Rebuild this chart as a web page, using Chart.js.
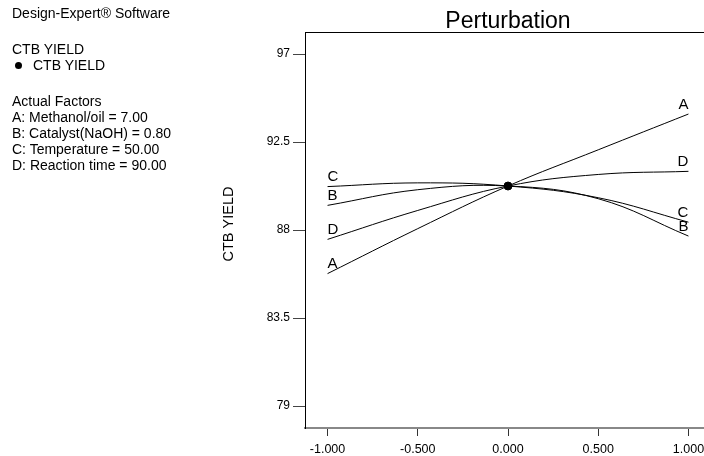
<!DOCTYPE html>
<html>
<head>
<meta charset="utf-8">
<title>Perturbation</title>
<script src="https://cdn.jsdelivr.net/npm/chart.js@4/dist/chart.umd.min.js"></script>
<style>
  html, body { margin: 0; padding: 0; background: #fff; overflow: hidden; }
  body { width: 704px; height: 456px; position: relative; }
  #wrap { position: absolute; left: 0; top: 0; width: 760px; height: 456px; }
  #info {
    position: absolute; left: 12px; top: 5px;
    font: 14px "Liberation Sans", Arial, sans-serif; color: #000;
    line-height: 16px; white-space: nowrap;
  }
  #info .gap { height: 20px; }
  #info .dot { display: inline-block; width: 7px; height: 7px; border-radius: 50%; background: #000; margin: 0 11px 1px 3px; }
</style>
</head>
<body>
<div id="wrap"><canvas id="perturbacion"></canvas></div>
<div id="info">
  <div>Design-Expert® Software</div>
  <div class="gap"></div>
  <div>CTB YIELD</div>
  <div><span class="dot"></span>CTB YIELD</div>
  <div class="gap"></div>
  <div>Actual Factors</div>
  <div>A: Methanol/oil = 7.00</div>
  <div>B: Catalyst(NaOH) = 0.80</div>
  <div>C: Temperature = 50.00</div>
  <div>D: Reaction time = 90.00</div>
</div>
<script>
// ==========================
// DATOS
// ==========================

const factores = ['A', 'B', 'C', 'D'];

// desviacion desde el punto de referencia (codificada)
const desviacion = [-1, -0.5, 0, 0.5, 1];

const rendimientoA = [85.77, 88.07, 90.25, 92.10, 93.93];
const rendimientoB = [89.26, 90.06, 90.25, 89.60, 87.69];
const rendimientoC = [90.22, 90.41, 90.25, 89.65, 88.40];
const rendimientoD = [87.52, 89.00, 90.25, 90.84, 91.00];

const puntoReferencia = [0, 90.25];

const ticksX = [-1, -0.5, 0, 0.5, 1];
const ticksY = [79, 83.5, 88, 92.5, 97];

const series = [rendimientoA, rendimientoB, rendimientoC, rendimientoD];

const fuente = '"Liberation Sans", Arial, sans-serif';


// ==========================
// TITULOS, LETRAS EN LOS EXTREMOS Y BORDE SUPERIOR
// ==========================

const extras = {
    id: 'extras',
    afterDatasetsDraw(chart) {
        const ctx = chart.ctx;
        const x = chart.scales.x;
        const y = chart.scales.y;
        const area = chart.chartArea;

        ctx.save();

        // borde superior del recuadro
        ctx.strokeStyle = '#000';
        ctx.lineWidth = 1;
        ctx.beginPath();
        ctx.moveTo(area.left, area.top + 0.5);
        ctx.lineTo(area.right, area.top + 0.5);
        ctx.stroke();

        ctx.fillStyle = '#000';

        // titulo centrado sobre el area del grafico
        ctx.font = '23px ' + fuente;
        ctx.textAlign = 'center';
        ctx.textBaseline = 'alphabetic';
        ctx.fillText('Perturbation', (area.left + area.right) / 2, area.top - 4);

        // titulo del eje y
        ctx.save();
        ctx.translate(233, 224);
        ctx.rotate(-Math.PI / 2);
        ctx.font = '14.5px ' + fuente;
        ctx.fillText('CTB YIELD', 0, 0);
        ctx.restore();

        // letra del factor en cada extremo de su curva
        ctx.font = '15px ' + fuente;
        ctx.textBaseline = 'bottom';
        chart.data.datasets.forEach(ds => {
            if (!ds.factor) return;
            const primero = ds.data[0];
            const ultimo = ds.data[ds.data.length - 1];
            ctx.textAlign = 'left';
            ctx.fillText(ds.factor, x.getPixelForValue(primero.x), y.getPixelForValue(primero.y) - 2);
            ctx.textAlign = 'right';
            ctx.fillText(ds.factor, x.getPixelForValue(ultimo.x), y.getPixelForValue(ultimo.y) - 2);
        });

        ctx.restore();
    }
};


// ==========================
// GRAFICO DE PERTURBACION
// ==========================

const lineas = series.map((valores, i) => ({
    label: factores[i],
    factor: factores[i],
    data: desviacion.map((d, j) => ({ x: d, y: valores[j] })),
    borderColor: '#000',
    borderWidth: 1,
    pointRadius: 0,
    tension: 0.4,
    fill: false
}));

lineas.push({
    label: 'CTB YIELD',
    data: [{ x: puntoReferencia[0], y: puntoReferencia[1] }],
    showLine: false,
    pointRadius: 4,
    pointBackgroundColor: '#000',
    pointBorderColor: '#000'
});

new Chart(document.getElementById('perturbacion'), {

    type: 'line',

    data: { datasets: lineas },

    plugins: [extras],

    options: {

        responsive: true,
        maintainAspectRatio: false,
        animation: false,

        layout: {
            padding: { left: 220, right: 49, top: 32, bottom: 0 }
        },

        plugins: {
            legend: { display: false },
            tooltip: { enabled: false },
            title: { display: false }
        },

        scales: {

            x: {
                type: 'linear',
                min: -1.125,
                max: 1.125,
                afterBuildTicks: s => { s.ticks = ticksX.map(v => ({ value: v })); },
                afterFit: s => { s.height = 28; },
                border: { color: '#888', width: 2 },
                grid: { drawOnChartArea: false, tickLength: 8, color: '#333' },
                ticks: {
                    color: '#000',
                    padding: 6,
                    maxRotation: 0,
                    font: { family: fuente, size: 12.5 },
                    callback: v => v.toFixed(3)
                }
            },

            y: {
                min: 77.875,
                max: 98.125,
                afterBuildTicks: s => { s.ticks = ticksY.map(v => ({ value: v })); },
                afterFit: s => { s.width = 85; },
                border: { color: '#000', width: 1 },
                grid: { drawOnChartArea: false, tickLength: 12, color: '#444' },
                ticks: {
                    color: '#000',
                    padding: 3,
                    font: { family: fuente, size: 12 },
                    callback: v => String(v)
                }
            }

        }

    }

});
</script>
</body>
</html>
